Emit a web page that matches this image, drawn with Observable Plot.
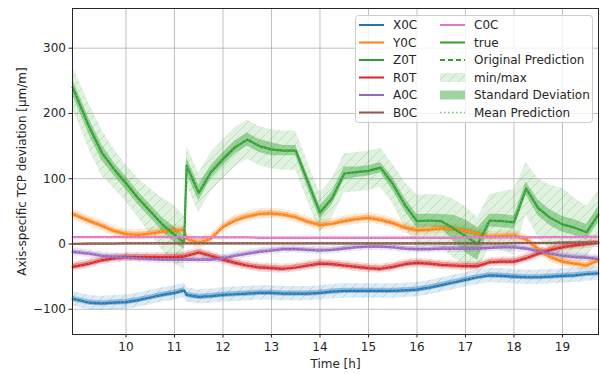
<!DOCTYPE html>
<html><head><meta charset="utf-8">
<script src="https://cdn.jsdelivr.net/npm/d3@7"></script>
<script src="https://cdn.jsdelivr.net/npm/@observablehq/plot@0.6"></script>
<style>body{margin:0;background:#fff;}#chart{position:relative;width:600px;height:374px;overflow:hidden}</style>
</head><body><div id="chart"></div>
<script>
const times = [8.9,9.25,9.5,9.75,10,10.25,10.5,10.75,11,11.2, 11.25,11.5,11.75,12,12.25,12.5,12.75,13,13.25,13.5, 13.75,14,14.25,14.5,14.75,15,15.25,15.5,15.75,16, 16.25,16.5,16.75,17,17.25,17.5,17.75,18,18.25,18.5, 18.75,19,19.25,19.5,19.74];
const xTicks = [10,11,12,13,14,15,16,17,18,19];
const yTicks = [-100,0,100,200,300];
const seriesNames = ["X0C","Y0C","Z0T","R0T","A0C","B0C","C0C"];
const colors = ["#1f77b4","#ff7f0e","#2ca02c","#d62728","#9467bd","#8c564b","#e377c2"];

const X0C = [-84,-90,-91,-90,-89,-86,-82,-78,-75,-71, -78,-81,-80,-78,-77,-76,-75,-75,-76,-76, -76,-75,-73,-72,-72,-72,-72,-72,-71,-70, -67,-63,-59,-55,-51,-48,-49,-50,-51,-51, -50,-49,-48,-46,-45];
const Y0C = [46,35,28,20,15,14,16,19,21,21, 8,2,8,26,36,42,46,47,45,41, 34,29,31,35,38,40,37,32,25,21, 22,24,23,20,16,11,12,13,7,-8, -20,-27,-30,-33,-25];
const Z0T = [240,178,140,115,93,70,50,30,14,2, 120,78,110,130,148,160,150,145,143,143, 95,48,70,108,110,112,117,92,60,35, 36,35,24,12,0,36,35,33,85,55, 40,30,25,18,45];
const R0T = [-35,-30,-25,-22,-20,-20,-20,-20,-20,-19, -18,-13,-18,-24,-29,-33,-36,-37,-38,-36, -33,-30,-31,-33,-35,-37,-38,-35,-31,-29, -30,-32,-33,-34,-34,-28,-27,-27,-22,-15, -9,-5,-2,0,2];
const A0C = [-12,-15,-18,-20,-21,-22,-23,-24,-24,-24, -24,-24,-24,-22,-18,-15,-12,-10,-8,-8, -9,-10,-9,-7,-5,-4,-4,-5,-7,-8, -8,-7,-7,-7,-7,-6,-5,-5,-7,-11, -15,-18,-20,-21,-23];
const B0C = [0,0.5,0.5,0.5,1,1,1,1,1,1, 1,1,1,1,1,1,1,1,1,1, 1,1,1,1,1,1,1,1,1,1, 1,1,1,1,1,1,1,1.5,1.5,1.5, 1.5,2,2,2,2];
const C0C = [10.5,10.5,10.5,10.5,10.5,10.5,10.5,10.5,10.5,10.5, 10,10,10,10,10,10,9.5,9.5,9.5,9.5, 9.5,9.5,9.5,9.5,9.5,9.5,9.5,9.5,9.5,9.5, 9.5,9.5,9.5,10,10,10,10,10,10,10, 10.5,10.5,10.5,11,11];
const seriesValues = [X0C,Y0C,Z0T,R0T,A0C,B0C,C0C];
const stdHalf = [4,4,null,4,3,1,1];
const mmHalf = [11,8,null,7,6,1.5,1.5];
const greenStd = [12,12,12,10,10,10,10,10,12,10, 12,12,10,10,10,10,10,10,8,8, 10,10,10,10,8,8,8,10,10,10, 10,10,20,25,25,10,10,10,10,12, 12,12,12,12,12];
const greenMM = [32,35,35,30,28,30,35,40,45,40, 30,30,30,30,30,30,30,30,30,30, 30,30,30,30,30,30,30,30,35,40, 40,40,45,45,40,40,45,50,40,45, 50,55,45,40,35];

const rows = [];
seriesNames.forEach((s, i) => {
  seriesValues[i].forEach((v, j) => {
    const sd = stdHalf[i] == null ? greenStd[j] : stdHalf[i];
    const mm = mmHalf[i] == null ? greenMM[j] : mmHalf[i];
    rows.push({series: s, t: times[j], mean: v, s1: v - sd, s2: v + sd, m1: v - mm, m2: v + mm});
  });
});

const marks = [
  Plot.ruleX(xTicks, {stroke: "#b0b0b0", strokeWidth: 0.8}),
  Plot.ruleY(yTicks, {stroke: "#b0b0b0", strokeWidth: 0.8})
];
seriesNames.forEach((s, i) => {
  const d = rows.filter(r => r.series === s);
  marks.push(Plot.areaY(d, {x: "t", y1: "m1", y2: "m2", fill: `url(#hatch${i})`}));
});
seriesNames.forEach((s, i) => {
  const d = rows.filter(r => r.series === s);
  marks.push(Plot.areaY(d, {x: "t", y1: "s1", y2: "s2", fill: colors[i], fillOpacity: 0.4}));
});
seriesNames.forEach((s, i) => {
  const d = rows.filter(r => r.series === s);
  marks.push(Plot.line(d, {x: "t", y: "mean", stroke: colors[i], strokeWidth: 2.2}));
  marks.push(Plot.line(d, {x: "t", y: "mean", stroke: "#ffffff", strokeOpacity: 0.3, strokeWidth: 0.8, strokeDasharray: "1,3"}));
});
marks.push(Plot.frame({stroke: "#262626", strokeWidth: 1}));
marks.push(Plot.text(["Axis-specific TCP deviation [µm/m]"], {frameAnchor: "left", textAnchor: "middle", rotate: -90, dx: -50, fontSize: 12, fill: "#262626"}));
marks.push(Plot.text(["Time [h]"], {frameAnchor: "bottom", textAnchor: "middle", dy: 30, fontSize: 12, fill: "#262626", lineAnchor: "middle"}));

const svgPlot = Plot.plot({
  width: 600, height: 374,
  marginLeft: 72, marginRight: 2, marginTop: 8, marginBottom: 40,
  style: {fontFamily: "DejaVu Sans", fontSize: "12px", color: "#262626", background: "#fff"},
  x: {domain: [8.897, 19.743], ticks: xTicks, tickSize: 3.5, tickPadding: 4, label: null},
  y: {domain: [-138.7, 360.8], ticks: yTicks, tickSize: 3.5, tickPadding: 3, label: null},
  marks
});
document.getElementById("chart").appendChild(svgPlot);

const svg = d3.select(svgPlot);
const defs = svg.insert("defs", ":first-child");
colors.forEach((c, i) => {
  const p = defs.append("pattern").attr("id", `hatch${i}`).attr("patternUnits", "userSpaceOnUse").attr("width", 10).attr("height", 10);
  p.append("rect").attr("width", 10).attr("height", 10).attr("fill", c).attr("fill-opacity", 0.15);
  p.append("path").attr("d", "M-2,2 L2,-2 M0,10 L10,0 M8,12 L12,8").attr("stroke", c).attr("stroke-opacity", 0.22).attr("stroke-width", 1);
});

// legend
const lg = svg.append("g").attr("font-family", "DejaVu Sans").attr("font-size", 12).attr("fill", "#262626").attr("text-anchor", "start");
lg.append("rect").attr("x", 355.5).attr("y", 15.5).attr("width", 237).attr("height", 107).attr("rx", 3)
  .attr("fill", "#fff").attr("fill-opacity", 0.8).attr("stroke", "#cccccc");
const rowY = k => 25 + k * 17.5;
seriesNames.slice(0, 6).forEach((s, k) => {
  lg.append("line").attr("x1", 359).attr("x2", 384).attr("y1", rowY(k)).attr("y2", rowY(k)).attr("stroke", colors[k]).attr("stroke-width", 2);
  lg.append("text").attr("x", 393).attr("y", rowY(k)).attr("dy", "0.35em").attr("text-anchor", "start").text(s);
});
const green = colors[2];
const col2 = [
  {label: "C0C", kind: "line", color: colors[6]},
  {label: "true", kind: "line", color: green},
  {label: "Original Prediction", kind: "dash", color: green},
  {label: "min/max", kind: "hatch", color: green},
  {label: "Standard Deviation", kind: "patch", color: green},
  {label: "Mean Prediction", kind: "dot", color: green}
];
col2.forEach((e, k) => {
  const y = rowY(k);
  if (e.kind === "line" || e.kind === "dash" || e.kind === "dot") {
    lg.append("line").attr("x1", 440).attr("x2", 465).attr("y1", y).attr("y2", y).attr("stroke", e.color)
      .attr("stroke-width", e.kind === "dot" ? 1.5 : 2).attr("stroke-opacity", e.kind === "dot" ? 0.6 : 1)
      .attr("stroke-dasharray", e.kind === "dash" ? "5,3" : e.kind === "dot" ? "1.5,2.5" : null);
  } else if (e.kind === "hatch") {
    lg.append("rect").attr("x", 440).attr("y", y - 4.5).attr("width", 25).attr("height", 9).attr("fill", "url(#hatch2)");
  } else {
    lg.append("rect").attr("x", 440).attr("y", y - 4.5).attr("width", 25).attr("height", 9).attr("fill", e.color).attr("fill-opacity", 0.45);
  }
  lg.append("text").attr("x", 474).attr("y", y).attr("dy", "0.35em").attr("text-anchor", "start").text(e.label);
});
</script>
</body></html>
